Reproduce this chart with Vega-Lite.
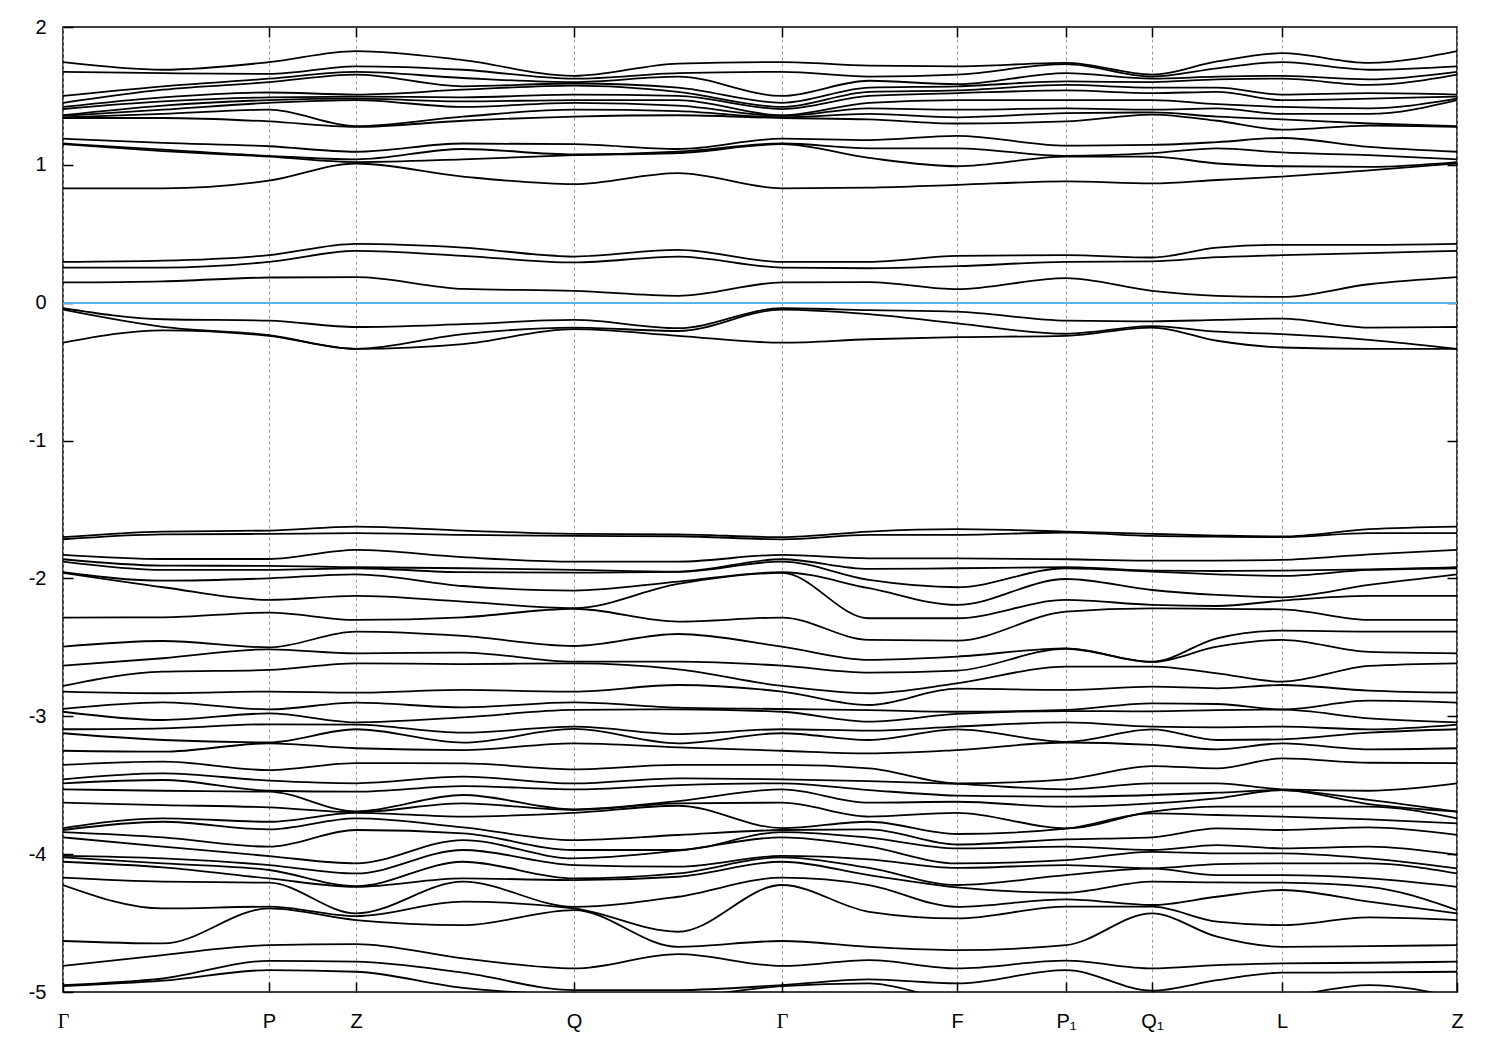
{
"$schema": "https://vega.github.io/schema/vega-lite/v6.json",
"width": 1394,
"height": 965,
"autosize": {"type": "none"},
"padding": {"left": 63, "top": 27, "right": 43, "bottom": 58},
"background": "white",
"config": {"view": {"stroke": "#000", "strokeWidth": 1.5}, "font": "Liberation Sans"},
"data": {"values": [
{"k":0,"b":1,"e":1.34},{"k":100,"b":1,"e":1.34},{"k":206,"b":1,"e":1.315},{"k":293,"b":1,"e":1.275},{"k":400,"b":1,"e":1.32},{"k":511,"b":1,"e":1.35},{"k":615,"b":1,"e":1.36},{"k":719,"b":1,"e":1.34},{"k":806,"b":1,"e":1.33},{"k":894,"b":1,"e":1.30},{"k":1003,"b":1,"e":1.315},{"k":1089,"b":1,"e":1.365},{"k":1154,"b":1,"e":1.32},{"k":1219,"b":1,"e":1.255},{"k":1306,"b":1,"e":1.285},{"k":1394,"b":1,"e":1.275},
{"k":0,"b":2,"e":1.345},{"k":100,"b":2,"e":1.37},{"k":206,"b":2,"e":1.40},{"k":293,"b":2,"e":1.28},{"k":400,"b":2,"e":1.35},{"k":511,"b":2,"e":1.40},{"k":615,"b":2,"e":1.39},{"k":719,"b":2,"e":1.345},{"k":806,"b":2,"e":1.37},{"k":894,"b":2,"e":1.345},{"k":1003,"b":2,"e":1.375},{"k":1089,"b":2,"e":1.38},{"k":1154,"b":2,"e":1.35},{"k":1219,"b":2,"e":1.33},{"k":1306,"b":2,"e":1.30},{"k":1394,"b":2,"e":1.28},
{"k":0,"b":3,"e":1.355},{"k":100,"b":3,"e":1.40},{"k":206,"b":3,"e":1.45},{"k":293,"b":3,"e":1.47},{"k":400,"b":3,"e":1.42},{"k":511,"b":3,"e":1.45},{"k":615,"b":3,"e":1.43},{"k":719,"b":3,"e":1.355},{"k":806,"b":3,"e":1.41},{"k":894,"b":3,"e":1.40},{"k":1003,"b":3,"e":1.41},{"k":1089,"b":3,"e":1.40},{"k":1154,"b":3,"e":1.41},{"k":1219,"b":3,"e":1.37},{"k":1306,"b":3,"e":1.37},{"k":1394,"b":3,"e":1.47},
{"k":0,"b":4,"e":1.36},{"k":100,"b":4,"e":1.43},{"k":206,"b":4,"e":1.47},{"k":293,"b":4,"e":1.48},{"k":400,"b":4,"e":1.46},{"k":511,"b":4,"e":1.47},{"k":615,"b":4,"e":1.47},{"k":719,"b":4,"e":1.36},{"k":806,"b":4,"e":1.45},{"k":894,"b":4,"e":1.47},{"k":1003,"b":4,"e":1.47},{"k":1089,"b":4,"e":1.47},{"k":1154,"b":4,"e":1.44},{"k":1219,"b":4,"e":1.42},{"k":1306,"b":4,"e":1.41},{"k":1394,"b":4,"e":1.48},
{"k":0,"b":5,"e":1.405},{"k":100,"b":5,"e":1.46},{"k":206,"b":5,"e":1.49},{"k":293,"b":5,"e":1.495},{"k":400,"b":5,"e":1.49},{"k":511,"b":5,"e":1.51},{"k":615,"b":5,"e":1.50},{"k":719,"b":5,"e":1.405},{"k":806,"b":5,"e":1.50},{"k":894,"b":5,"e":1.52},{"k":1003,"b":5,"e":1.54},{"k":1089,"b":5,"e":1.52},{"k":1154,"b":5,"e":1.53},{"k":1219,"b":5,"e":1.47},{"k":1306,"b":5,"e":1.48},{"k":1394,"b":5,"e":1.495},
{"k":0,"b":6,"e":1.42},{"k":100,"b":6,"e":1.49},{"k":206,"b":6,"e":1.525},{"k":293,"b":6,"e":1.51},{"k":400,"b":6,"e":1.545},{"k":511,"b":6,"e":1.575},{"k":615,"b":6,"e":1.53},{"k":719,"b":6,"e":1.42},{"k":806,"b":6,"e":1.53},{"k":894,"b":6,"e":1.54},{"k":1003,"b":6,"e":1.58},{"k":1089,"b":6,"e":1.56},{"k":1154,"b":6,"e":1.56},{"k":1219,"b":6,"e":1.51},{"k":1306,"b":6,"e":1.52},{"k":1394,"b":6,"e":1.51},
{"k":0,"b":7,"e":1.45},{"k":100,"b":7,"e":1.545},{"k":206,"b":7,"e":1.60},{"k":293,"b":7,"e":1.655},{"k":400,"b":7,"e":1.57},{"k":511,"b":7,"e":1.59},{"k":615,"b":7,"e":1.56},{"k":719,"b":7,"e":1.45},{"k":806,"b":7,"e":1.56},{"k":894,"b":7,"e":1.57},{"k":1003,"b":7,"e":1.605},{"k":1089,"b":7,"e":1.60},{"k":1154,"b":7,"e":1.62},{"k":1219,"b":7,"e":1.625},{"k":1306,"b":7,"e":1.58},{"k":1394,"b":7,"e":1.655},
{"k":0,"b":8,"e":1.50},{"k":100,"b":8,"e":1.57},{"k":206,"b":8,"e":1.625},{"k":293,"b":8,"e":1.675},{"k":400,"b":8,"e":1.63},{"k":511,"b":8,"e":1.60},{"k":615,"b":8,"e":1.64},{"k":719,"b":8,"e":1.50},{"k":806,"b":8,"e":1.61},{"k":894,"b":8,"e":1.585},{"k":1003,"b":8,"e":1.665},{"k":1089,"b":8,"e":1.625},{"k":1154,"b":8,"e":1.64},{"k":1219,"b":8,"e":1.645},{"k":1306,"b":8,"e":1.62},{"k":1394,"b":8,"e":1.675},
{"k":0,"b":9,"e":1.675},{"k":100,"b":9,"e":1.665},{"k":206,"b":9,"e":1.66},{"k":293,"b":9,"e":1.715},{"k":400,"b":9,"e":1.69},{"k":511,"b":9,"e":1.625},{"k":615,"b":9,"e":1.665},{"k":719,"b":9,"e":1.675},{"k":806,"b":9,"e":1.64},{"k":894,"b":9,"e":1.655},{"k":1003,"b":9,"e":1.73},{"k":1089,"b":9,"e":1.64},{"k":1154,"b":9,"e":1.70},{"k":1219,"b":9,"e":1.745},{"k":1306,"b":9,"e":1.69},{"k":1394,"b":9,"e":1.715},
{"k":0,"b":10,"e":1.745},{"k":100,"b":10,"e":1.69},{"k":206,"b":10,"e":1.745},{"k":293,"b":10,"e":1.825},{"k":400,"b":10,"e":1.76},{"k":511,"b":10,"e":1.645},{"k":615,"b":10,"e":1.735},{"k":719,"b":10,"e":1.745},{"k":806,"b":10,"e":1.72},{"k":894,"b":10,"e":1.715},{"k":1003,"b":10,"e":1.74},{"k":1089,"b":10,"e":1.655},{"k":1154,"b":10,"e":1.75},{"k":1219,"b":10,"e":1.81},{"k":1306,"b":10,"e":1.74},{"k":1394,"b":10,"e":1.825},
{"k":0,"b":11,"e":0.83},{"k":100,"b":11,"e":0.83},{"k":206,"b":11,"e":0.885},{"k":293,"b":11,"e":1.01},{"k":400,"b":11,"e":0.915},{"k":511,"b":11,"e":0.86},{"k":615,"b":11,"e":0.94},{"k":719,"b":11,"e":0.83},{"k":806,"b":11,"e":0.835},{"k":894,"b":11,"e":0.855},{"k":1003,"b":11,"e":0.88},{"k":1089,"b":11,"e":0.865},{"k":1154,"b":11,"e":0.89},{"k":1219,"b":11,"e":0.915},{"k":1306,"b":11,"e":0.96},{"k":1394,"b":11,"e":1.01},
{"k":0,"b":12,"e":1.15},{"k":100,"b":12,"e":1.10},{"k":206,"b":12,"e":1.06},{"k":293,"b":12,"e":1.02},{"k":400,"b":12,"e":1.04},{"k":511,"b":12,"e":1.07},{"k":615,"b":12,"e":1.085},{"k":719,"b":12,"e":1.15},{"k":806,"b":12,"e":1.05},{"k":894,"b":12,"e":0.99},{"k":1003,"b":12,"e":1.06},{"k":1089,"b":12,"e":1.06},{"k":1154,"b":12,"e":1.01},{"k":1219,"b":12,"e":0.99},{"k":1306,"b":12,"e":0.985},{"k":1394,"b":12,"e":1.02},
{"k":0,"b":13,"e":1.155},{"k":100,"b":13,"e":1.11},{"k":206,"b":13,"e":1.065},{"k":293,"b":13,"e":1.04},{"k":400,"b":13,"e":1.115},{"k":511,"b":13,"e":1.075},{"k":615,"b":13,"e":1.095},{"k":719,"b":13,"e":1.155},{"k":806,"b":13,"e":1.12},{"k":894,"b":13,"e":1.12},{"k":1003,"b":13,"e":1.065},{"k":1089,"b":13,"e":1.085},{"k":1154,"b":13,"e":1.12},{"k":1219,"b":13,"e":1.09},{"k":1306,"b":13,"e":1.07},{"k":1394,"b":13,"e":1.04},
{"k":0,"b":14,"e":1.19},{"k":100,"b":14,"e":1.16},{"k":206,"b":14,"e":1.135},{"k":293,"b":14,"e":1.095},{"k":400,"b":14,"e":1.155},{"k":511,"b":14,"e":1.15},{"k":615,"b":14,"e":1.115},{"k":719,"b":14,"e":1.19},{"k":806,"b":14,"e":1.18},{"k":894,"b":14,"e":1.21},{"k":1003,"b":14,"e":1.14},{"k":1089,"b":14,"e":1.145},{"k":1154,"b":14,"e":1.165},{"k":1219,"b":14,"e":1.195},{"k":1306,"b":14,"e":1.13},{"k":1394,"b":14,"e":1.095},
{"k":0,"b":21,"e":0.147},{"k":100,"b":21,"e":0.155},{"k":206,"b":21,"e":0.183},{"k":293,"b":21,"e":0.186},{"k":400,"b":21,"e":0.10},{"k":511,"b":21,"e":0.086},{"k":615,"b":21,"e":0.05},{"k":719,"b":21,"e":0.147},{"k":806,"b":21,"e":0.15},{"k":894,"b":21,"e":0.098},{"k":1003,"b":21,"e":0.178},{"k":1089,"b":21,"e":0.086},{"k":1154,"b":21,"e":0.05},{"k":1219,"b":21,"e":0.042},{"k":1306,"b":21,"e":0.134},{"k":1394,"b":21,"e":0.186},
{"k":0,"b":22,"e":0.255},{"k":100,"b":22,"e":0.255},{"k":206,"b":22,"e":0.296},{"k":293,"b":22,"e":0.376},{"k":400,"b":22,"e":0.34},{"k":511,"b":22,"e":0.292},{"k":615,"b":22,"e":0.335},{"k":719,"b":22,"e":0.255},{"k":806,"b":22,"e":0.25},{"k":894,"b":22,"e":0.265},{"k":1003,"b":22,"e":0.296},{"k":1089,"b":22,"e":0.30},{"k":1154,"b":22,"e":0.33},{"k":1219,"b":22,"e":0.345},{"k":1306,"b":22,"e":0.36},{"k":1394,"b":22,"e":0.376},
{"k":0,"b":23,"e":0.296},{"k":100,"b":23,"e":0.305},{"k":206,"b":23,"e":0.345},{"k":293,"b":23,"e":0.427},{"k":400,"b":23,"e":0.40},{"k":511,"b":23,"e":0.335},{"k":615,"b":23,"e":0.383},{"k":719,"b":23,"e":0.296},{"k":806,"b":23,"e":0.296},{"k":894,"b":23,"e":0.34},{"k":1003,"b":23,"e":0.345},{"k":1089,"b":23,"e":0.328},{"k":1154,"b":23,"e":0.40},{"k":1219,"b":23,"e":0.42},{"k":1306,"b":23,"e":0.42},{"k":1394,"b":23,"e":0.427},
{"k":0,"b":24,"e":-0.04},{"k":100,"b":24,"e":-0.12},{"k":206,"b":24,"e":-0.13},{"k":293,"b":24,"e":-0.176},{"k":400,"b":24,"e":-0.156},{"k":511,"b":24,"e":-0.125},{"k":615,"b":24,"e":-0.185},{"k":719,"b":24,"e":-0.04},{"k":806,"b":24,"e":-0.054},{"k":894,"b":24,"e":-0.065},{"k":1003,"b":24,"e":-0.13},{"k":1089,"b":24,"e":-0.135},{"k":1154,"b":24,"e":-0.125},{"k":1219,"b":24,"e":-0.115},{"k":1306,"b":24,"e":-0.18},{"k":1394,"b":24,"e":-0.176},
{"k":0,"b":25,"e":-0.05},{"k":100,"b":25,"e":-0.175},{"k":206,"b":25,"e":-0.235},{"k":293,"b":25,"e":-0.335},{"k":400,"b":25,"e":-0.228},{"k":511,"b":25,"e":-0.18},{"k":615,"b":25,"e":-0.205},{"k":719,"b":25,"e":-0.05},{"k":806,"b":25,"e":-0.083},{"k":894,"b":25,"e":-0.15},{"k":1003,"b":25,"e":-0.225},{"k":1089,"b":25,"e":-0.17},{"k":1154,"b":25,"e":-0.21},{"k":1219,"b":25,"e":-0.228},{"k":1306,"b":25,"e":-0.27},{"k":1394,"b":25,"e":-0.335},
{"k":0,"b":26,"e":-0.29},{"k":100,"b":26,"e":-0.20},{"k":206,"b":26,"e":-0.24},{"k":293,"b":26,"e":-0.335},{"k":400,"b":26,"e":-0.30},{"k":511,"b":26,"e":-0.192},{"k":615,"b":26,"e":-0.24},{"k":719,"b":26,"e":-0.29},{"k":806,"b":26,"e":-0.265},{"k":894,"b":26,"e":-0.25},{"k":1003,"b":26,"e":-0.24},{"k":1089,"b":26,"e":-0.18},{"k":1154,"b":26,"e":-0.276},{"k":1219,"b":26,"e":-0.325},{"k":1306,"b":26,"e":-0.335},{"k":1394,"b":26,"e":-0.335},
{"k":0,"b":30,"e":-5.35},{"k":100,"b":30,"e":-5.3},{"k":206,"b":30,"e":-5.25},{"k":293,"b":30,"e":-5.2},{"k":400,"b":30,"e":-5.2},{"k":511,"b":30,"e":-5.25},{"k":615,"b":30,"e":-5.3},{"k":719,"b":30,"e":-5.35},{"k":806,"b":30,"e":-5.3},{"k":894,"b":30,"e":-5.3},{"k":1003,"b":30,"e":-5.3},{"k":1089,"b":30,"e":-5.3},{"k":1154,"b":30,"e":-5.3},{"k":1219,"b":30,"e":-5.3},{"k":1306,"b":30,"e":-5.2},{"k":1394,"b":30,"e":-5.3},
{"k":0,"b":31,"e":-5.25},{"k":100,"b":31,"e":-5.2},{"k":206,"b":31,"e":-5.15},{"k":293,"b":31,"e":-5.12},{"k":400,"b":31,"e":-5.12},{"k":511,"b":31,"e":-5.15},{"k":615,"b":31,"e":-5.2},{"k":719,"b":31,"e":-5.25},{"k":806,"b":31,"e":-5.2},{"k":894,"b":31,"e":-5.2},{"k":1003,"b":31,"e":-5.2},{"k":1089,"b":31,"e":-5.2},{"k":1154,"b":31,"e":-5.2},{"k":1219,"b":31,"e":-5.2},{"k":1306,"b":31,"e":-5.12},{"k":1394,"b":31,"e":-5.2},
{"k":0,"b":32,"e":-5.15},{"k":100,"b":32,"e":-5.1},{"k":206,"b":32,"e":-5.05},{"k":293,"b":32,"e":-5.06},{"k":400,"b":32,"e":-5.06},{"k":511,"b":32,"e":-5.08},{"k":615,"b":32,"e":-5.1},{"k":719,"b":32,"e":-5.15},{"k":806,"b":32,"e":-5.1},{"k":894,"b":32,"e":-5.12},{"k":1003,"b":32,"e":-5.12},{"k":1089,"b":32,"e":-5.1},{"k":1154,"b":32,"e":-5.1},{"k":1219,"b":32,"e":-5.1},{"k":1306,"b":32,"e":-5.06},{"k":1394,"b":32,"e":-5.1},
{"k":0,"b":33,"e":-4.957},{"k":100,"b":33,"e":-4.918},{"k":206,"b":33,"e":-4.841},{"k":293,"b":33,"e":-4.853},{"k":400,"b":33,"e":-4.97},{"k":511,"b":33,"e":-5.02},{"k":615,"b":33,"e":-5.03},{"k":719,"b":33,"e":-4.957},{"k":806,"b":33,"e":-4.938},{"k":894,"b":33,"e":-5.05},{"k":1003,"b":33,"e":-5.05},{"k":1089,"b":33,"e":-5.02},{"k":1154,"b":33,"e":-5.04},{"k":1219,"b":33,"e":-5.03},{"k":1306,"b":33,"e":-4.95},{"k":1394,"b":33,"e":-5.04},
{"k":0,"b":34,"e":-4.95},{"k":100,"b":34,"e":-4.902},{"k":206,"b":34,"e":-4.774},{"k":293,"b":34,"e":-4.78},{"k":400,"b":34,"e":-4.86},{"k":511,"b":34,"e":-4.986},{"k":615,"b":34,"e":-4.986},{"k":719,"b":34,"e":-4.95},{"k":806,"b":34,"e":-4.909},{"k":894,"b":34,"e":-4.938},{"k":1003,"b":34,"e":-4.841},{"k":1089,"b":34,"e":-4.99},{"k":1154,"b":34,"e":-4.914},{"k":1219,"b":34,"e":-4.86},{"k":1306,"b":34,"e":-4.858},{"k":1394,"b":34,"e":-4.853},
{"k":0,"b":35,"e":-4.811},{"k":100,"b":35,"e":-4.732},{"k":206,"b":35,"e":-4.66},{"k":293,"b":35,"e":-4.652},{"k":400,"b":35,"e":-4.756},{"k":511,"b":35,"e":-4.829},{"k":615,"b":35,"e":-4.725},{"k":719,"b":35,"e":-4.811},{"k":806,"b":35,"e":-4.769},{"k":894,"b":35,"e":-4.829},{"k":1003,"b":35,"e":-4.773},{"k":1089,"b":35,"e":-4.829},{"k":1154,"b":35,"e":-4.805},{"k":1219,"b":35,"e":-4.793},{"k":1306,"b":35,"e":-4.788},{"k":1394,"b":35,"e":-4.78},
{"k":0,"b":36,"e":-4.63},{"k":100,"b":36,"e":-4.648},{"k":206,"b":36,"e":-4.394},{"k":293,"b":36,"e":-4.478},{"k":400,"b":36,"e":-4.515},{"k":511,"b":36,"e":-4.406},{"k":615,"b":36,"e":-4.672},{"k":719,"b":36,"e":-4.63},{"k":806,"b":36,"e":-4.672},{"k":894,"b":36,"e":-4.696},{"k":1003,"b":36,"e":-4.66},{"k":1089,"b":36,"e":-4.43},{"k":1154,"b":36,"e":-4.599},{"k":1219,"b":36,"e":-4.672},{"k":1306,"b":36,"e":-4.667},{"k":1394,"b":36,"e":-4.66},
{"k":0,"b":37,"e":-4.224},{"k":100,"b":37,"e":-4.394},{"k":206,"b":37,"e":-4.381},{"k":293,"b":37,"e":-4.45},{"k":400,"b":37,"e":-4.345},{"k":511,"b":37,"e":-4.394},{"k":615,"b":37,"e":-4.563},{"k":719,"b":37,"e":-4.224},{"k":806,"b":37,"e":-4.418},{"k":894,"b":37,"e":-4.466},{"k":1003,"b":37,"e":-4.381},{"k":1089,"b":37,"e":-4.381},{"k":1154,"b":37,"e":-4.49},{"k":1219,"b":37,"e":-4.515},{"k":1306,"b":37,"e":-4.459},{"k":1394,"b":37,"e":-4.478},
{"k":0,"b":38,"e":-4.171},{"k":100,"b":38,"e":-4.20},{"k":206,"b":38,"e":-4.207},{"k":293,"b":38,"e":-4.43},{"k":400,"b":38,"e":-4.20},{"k":511,"b":38,"e":-4.382},{"k":615,"b":38,"e":-4.309},{"k":719,"b":38,"e":-4.171},{"k":806,"b":38,"e":-4.224},{"k":894,"b":38,"e":-4.382},{"k":1003,"b":38,"e":-4.328},{"k":1089,"b":38,"e":-4.369},{"k":1154,"b":38,"e":-4.309},{"k":1219,"b":38,"e":-4.26},{"k":1306,"b":38,"e":-4.345},{"k":1394,"b":38,"e":-4.43},
{"k":0,"b":39,"e":-4.055},{"k":100,"b":39,"e":-4.096},{"k":206,"b":39,"e":-4.176},{"k":293,"b":39,"e":-4.237},{"k":400,"b":39,"e":-4.176},{"k":511,"b":39,"e":-4.188},{"k":615,"b":39,"e":-4.164},{"k":719,"b":39,"e":-4.055},{"k":806,"b":39,"e":-4.152},{"k":894,"b":39,"e":-4.241},{"k":1003,"b":39,"e":-4.28},{"k":1089,"b":39,"e":-4.2},{"k":1154,"b":39,"e":-4.205},{"k":1219,"b":39,"e":-4.207},{"k":1306,"b":39,"e":-4.237},{"k":1394,"b":39,"e":-4.406},
{"k":0,"b":40,"e":-4.023},{"k":100,"b":40,"e":-4.067},{"k":206,"b":40,"e":-4.115},{"k":293,"b":40,"e":-4.232},{"k":400,"b":40,"e":-4.055},{"k":511,"b":40,"e":-4.176},{"k":615,"b":40,"e":-4.14},{"k":719,"b":40,"e":-4.023},{"k":806,"b":40,"e":-4.10},{"k":894,"b":40,"e":-4.224},{"k":1003,"b":40,"e":-4.152},{"k":1089,"b":40,"e":-4.105},{"k":1154,"b":40,"e":-4.152},{"k":1219,"b":40,"e":-4.152},{"k":1306,"b":40,"e":-4.176},{"k":1394,"b":40,"e":-4.237},
{"k":0,"b":41,"e":-4.013},{"k":100,"b":41,"e":-4.031},{"k":206,"b":41,"e":-4.079},{"k":293,"b":41,"e":-4.14},{"k":400,"b":41,"e":-3.970},{"k":511,"b":41,"e":-4.079},{"k":615,"b":41,"e":-4.091},{"k":719,"b":41,"e":-4.013},{"k":806,"b":41,"e":-4.038},{"k":894,"b":41,"e":-4.10},{"k":1003,"b":41,"e":-4.079},{"k":1089,"b":41,"e":-4.103},{"k":1154,"b":41,"e":-4.072},{"k":1219,"b":41,"e":-4.067},{"k":1306,"b":41,"e":-4.067},{"k":1394,"b":41,"e":-4.14},
{"k":0,"b":42,"e":-3.878},{"k":100,"b":42,"e":-3.946},{"k":206,"b":42,"e":-4.014},{"k":293,"b":42,"e":-4.067},{"k":400,"b":42,"e":-3.898},{"k":511,"b":42,"e":-4.031},{"k":615,"b":42,"e":-3.975},{"k":719,"b":42,"e":-3.878},{"k":806,"b":42,"e":-3.946},{"k":894,"b":42,"e":-4.067},{"k":1003,"b":42,"e":-4.043},{"k":1089,"b":42,"e":-3.983},{"k":1154,"b":42,"e":-3.994},{"k":1219,"b":42,"e":-3.994},{"k":1306,"b":42,"e":-4.031},{"k":1394,"b":42,"e":-4.103},
{"k":0,"b":43,"e":-3.84},{"k":100,"b":43,"e":-3.878},{"k":206,"b":43,"e":-3.946},{"k":293,"b":43,"e":-3.825},{"k":400,"b":43,"e":-3.849},{"k":511,"b":43,"e":-3.97},{"k":615,"b":43,"e":-3.970},{"k":719,"b":43,"e":-3.84},{"k":806,"b":43,"e":-3.88},{"k":894,"b":43,"e":-3.958},{"k":1003,"b":43,"e":-3.946},{"k":1089,"b":43,"e":-3.97},{"k":1154,"b":43,"e":-3.934},{"k":1219,"b":43,"e":-3.958},{"k":1306,"b":43,"e":-3.946},{"k":1394,"b":43,"e":-4.006},
{"k":0,"b":44,"e":-3.825},{"k":100,"b":44,"e":-3.765},{"k":206,"b":44,"e":-3.82},{"k":293,"b":44,"e":-3.74},{"k":400,"b":44,"e":-3.806},{"k":511,"b":44,"e":-3.898},{"k":615,"b":44,"e":-3.861},{"k":719,"b":44,"e":-3.825},{"k":806,"b":44,"e":-3.82},{"k":894,"b":44,"e":-3.93},{"k":1003,"b":44,"e":-3.893},{"k":1089,"b":44,"e":-3.878},{"k":1154,"b":44,"e":-3.813},{"k":1219,"b":44,"e":-3.825},{"k":1306,"b":44,"e":-3.806},{"k":1394,"b":44,"e":-3.861},
{"k":0,"b":45,"e":-3.811},{"k":100,"b":45,"e":-3.740},{"k":206,"b":45,"e":-3.765},{"k":293,"b":45,"e":-3.70},{"k":400,"b":45,"e":-3.728},{"k":511,"b":45,"e":-3.70},{"k":615,"b":45,"e":-3.649},{"k":719,"b":45,"e":-3.811},{"k":806,"b":45,"e":-3.765},{"k":894,"b":45,"e":-3.854},{"k":1003,"b":45,"e":-3.815},{"k":1089,"b":45,"e":-3.704},{"k":1154,"b":45,"e":-3.716},{"k":1219,"b":45,"e":-3.728},{"k":1306,"b":45,"e":-3.748},{"k":1394,"b":45,"e":-3.777},
{"k":0,"b":46,"e":-3.627},{"k":100,"b":46,"e":-3.644},{"k":206,"b":46,"e":-3.661},{"k":293,"b":46,"e":-3.695},{"k":400,"b":46,"e":-3.632},{"k":511,"b":46,"e":-3.68},{"k":615,"b":46,"e":-3.632},{"k":719,"b":46,"e":-3.627},{"k":806,"b":46,"e":-3.728},{"k":894,"b":46,"e":-3.70},{"k":1003,"b":46,"e":-3.813},{"k":1089,"b":46,"e":-3.692},{"k":1154,"b":46,"e":-3.656},{"k":1219,"b":46,"e":-3.656},{"k":1306,"b":46,"e":-3.656},{"k":1394,"b":46,"e":-3.74},
{"k":0,"b":47,"e":-3.53},{"k":100,"b":47,"e":-3.540},{"k":206,"b":47,"e":-3.547},{"k":293,"b":47,"e":-3.69},{"k":400,"b":47,"e":-3.571},{"k":511,"b":47,"e":-3.675},{"k":615,"b":47,"e":-3.615},{"k":719,"b":47,"e":-3.53},{"k":806,"b":47,"e":-3.627},{"k":894,"b":47,"e":-3.62},{"k":1003,"b":47,"e":-3.656},{"k":1089,"b":47,"e":-3.632},{"k":1154,"b":47,"e":-3.595},{"k":1219,"b":47,"e":-3.535},{"k":1306,"b":47,"e":-3.637},{"k":1394,"b":47,"e":-3.692},
{"k":0,"b":48,"e":-3.486},{"k":100,"b":48,"e":-3.462},{"k":206,"b":48,"e":-3.54},{"k":293,"b":48,"e":-3.547},{"k":400,"b":48,"e":-3.506},{"k":511,"b":48,"e":-3.53},{"k":615,"b":48,"e":-3.499},{"k":719,"b":48,"e":-3.486},{"k":806,"b":48,"e":-3.535},{"k":894,"b":48,"e":-3.575},{"k":1003,"b":48,"e":-3.583},{"k":1089,"b":48,"e":-3.571},{"k":1154,"b":48,"e":-3.554},{"k":1219,"b":48,"e":-3.535},{"k":1306,"b":48,"e":-3.607},{"k":1394,"b":48,"e":-3.692},
{"k":0,"b":49,"e":-3.457},{"k":100,"b":49,"e":-3.414},{"k":206,"b":49,"e":-3.467},{"k":293,"b":49,"e":-3.486},{"k":400,"b":49,"e":-3.438},{"k":511,"b":49,"e":-3.487},{"k":615,"b":49,"e":-3.450},{"k":719,"b":49,"e":-3.457},{"k":806,"b":49,"e":-3.47},{"k":894,"b":49,"e":-3.49},{"k":1003,"b":49,"e":-3.53},{"k":1089,"b":49,"e":-3.487},{"k":1154,"b":49,"e":-3.487},{"k":1219,"b":49,"e":-3.53},{"k":1306,"b":49,"e":-3.540},{"k":1394,"b":49,"e":-3.487},
{"k":0,"b":50,"e":-3.353},{"k":100,"b":50,"e":-3.329},{"k":206,"b":50,"e":-3.39},{"k":293,"b":50,"e":-3.34},{"k":400,"b":50,"e":-3.341},{"k":511,"b":50,"e":-3.385},{"k":615,"b":50,"e":-3.353},{"k":719,"b":50,"e":-3.353},{"k":806,"b":50,"e":-3.378},{"k":894,"b":50,"e":-3.487},{"k":1003,"b":50,"e":-3.457},{"k":1089,"b":50,"e":-3.361},{"k":1154,"b":50,"e":-3.378},{"k":1219,"b":50,"e":-3.305},{"k":1306,"b":50,"e":-3.337},{"k":1394,"b":50,"e":-3.34},
{"k":0,"b":51,"e":-3.25},{"k":100,"b":51,"e":-3.257},{"k":206,"b":51,"e":-3.196},{"k":293,"b":51,"e":-3.232},{"k":400,"b":51,"e":-3.245},{"k":511,"b":51,"e":-3.196},{"k":615,"b":51,"e":-3.225},{"k":719,"b":51,"e":-3.25},{"k":806,"b":51,"e":-3.269},{"k":894,"b":51,"e":-3.245},{"k":1003,"b":51,"e":-3.19},{"k":1089,"b":51,"e":-3.208},{"k":1154,"b":51,"e":-3.24},{"k":1219,"b":51,"e":-3.196},{"k":1306,"b":51,"e":-3.24},{"k":1394,"b":51,"e":-3.232},
{"k":0,"b":52,"e":-3.123},{"k":100,"b":52,"e":-3.172},{"k":206,"b":52,"e":-3.189},{"k":293,"b":52,"e":-3.094},{"k":400,"b":52,"e":-3.191},{"k":511,"b":52,"e":-3.092},{"k":615,"b":52,"e":-3.196},{"k":719,"b":52,"e":-3.123},{"k":806,"b":52,"e":-3.172},{"k":894,"b":52,"e":-3.095},{"k":1003,"b":52,"e":-3.185},{"k":1089,"b":52,"e":-3.095},{"k":1154,"b":52,"e":-3.172},{"k":1219,"b":52,"e":-3.167},{"k":1306,"b":52,"e":-3.119},{"k":1394,"b":52,"e":-3.094},
{"k":0,"b":53,"e":-3.094},{"k":100,"b":53,"e":-3.087},{"k":206,"b":53,"e":-3.058},{"k":293,"b":53,"e":-3.06},{"k":400,"b":53,"e":-3.119},{"k":511,"b":53,"e":-3.075},{"k":615,"b":53,"e":-3.129},{"k":719,"b":53,"e":-3.094},{"k":806,"b":53,"e":-3.104},{"k":894,"b":53,"e":-3.075},{"k":1003,"b":53,"e":-3.044},{"k":1089,"b":53,"e":-3.075},{"k":1154,"b":53,"e":-3.08},{"k":1219,"b":53,"e":-3.075},{"k":1306,"b":53,"e":-3.095},{"k":1394,"b":53,"e":-3.06},
{"k":0,"b":54,"e":-2.967},{"k":100,"b":54,"e":-3.027},{"k":206,"b":54,"e":-2.979},{"k":293,"b":54,"e":-3.044},{"k":400,"b":54,"e":-3.008},{"k":511,"b":54,"e":-2.954},{"k":615,"b":54,"e":-2.95},{"k":719,"b":54,"e":-2.967},{"k":806,"b":54,"e":-3.039},{"k":894,"b":54,"e":-2.983},{"k":1003,"b":54,"e":-2.962},{"k":1089,"b":54,"e":-2.964},{"k":1154,"b":54,"e":-2.955},{"k":1219,"b":54,"e":-2.952},{"k":1306,"b":54,"e":-3.015},{"k":1394,"b":54,"e":-3.044},
{"k":0,"b":55,"e":-2.947},{"k":100,"b":55,"e":-2.899},{"k":206,"b":55,"e":-2.95},{"k":293,"b":55,"e":-2.901},{"k":400,"b":55,"e":-2.935},{"k":511,"b":55,"e":-2.899},{"k":615,"b":55,"e":-2.937},{"k":719,"b":55,"e":-2.947},{"k":806,"b":55,"e":-2.955},{"k":894,"b":55,"e":-2.967},{"k":1003,"b":55,"e":-2.954},{"k":1089,"b":55,"e":-2.906},{"k":1154,"b":55,"e":-2.911},{"k":1219,"b":55,"e":-2.95},{"k":1306,"b":55,"e":-2.887},{"k":1394,"b":55,"e":-2.901},
{"k":0,"b":56,"e":-2.821},{"k":100,"b":56,"e":-2.833},{"k":206,"b":56,"e":-2.821},{"k":293,"b":56,"e":-2.829},{"k":400,"b":56,"e":-2.809},{"k":511,"b":56,"e":-2.821},{"k":615,"b":56,"e":-2.773},{"k":719,"b":56,"e":-2.821},{"k":806,"b":56,"e":-2.918},{"k":894,"b":56,"e":-2.80},{"k":1003,"b":56,"e":-2.809},{"k":1089,"b":56,"e":-2.785},{"k":1154,"b":56,"e":-2.797},{"k":1219,"b":56,"e":-2.773},{"k":1306,"b":56,"e":-2.814},{"k":1394,"b":56,"e":-2.829},
{"k":0,"b":57,"e":-2.78},{"k":100,"b":57,"e":-2.676},{"k":206,"b":57,"e":-2.664},{"k":293,"b":57,"e":-2.616},{"k":400,"b":57,"e":-2.621},{"k":511,"b":57,"e":-2.616},{"k":615,"b":57,"e":-2.659},{"k":719,"b":57,"e":-2.78},{"k":806,"b":57,"e":-2.833},{"k":894,"b":57,"e":-2.761},{"k":1003,"b":57,"e":-2.64},{"k":1089,"b":57,"e":-2.64},{"k":1154,"b":57,"e":-2.688},{"k":1219,"b":57,"e":-2.749},{"k":1306,"b":57,"e":-2.635},{"k":1394,"b":57,"e":-2.616},
{"k":0,"b":58,"e":-2.633},{"k":100,"b":58,"e":-2.579},{"k":206,"b":58,"e":-2.514},{"k":293,"b":58,"e":-2.543},{"k":400,"b":58,"e":-2.538},{"k":511,"b":58,"e":-2.604},{"k":615,"b":58,"e":-2.604},{"k":719,"b":58,"e":-2.633},{"k":806,"b":58,"e":-2.684},{"k":894,"b":58,"e":-2.669},{"k":1003,"b":58,"e":-2.51},{"k":1089,"b":58,"e":-2.606},{"k":1154,"b":58,"e":-2.495},{"k":1219,"b":58,"e":-2.446},{"k":1306,"b":58,"e":-2.533},{"k":1394,"b":58,"e":-2.543},
{"k":0,"b":59,"e":-2.495},{"k":100,"b":59,"e":-2.454},{"k":206,"b":59,"e":-2.5},{"k":293,"b":59,"e":-2.386},{"k":400,"b":59,"e":-2.417},{"k":511,"b":59,"e":-2.49},{"k":615,"b":59,"e":-2.403},{"k":719,"b":59,"e":-2.495},{"k":806,"b":59,"e":-2.591},{"k":894,"b":59,"e":-2.567},{"k":1003,"b":59,"e":-2.507},{"k":1089,"b":59,"e":-2.604},{"k":1154,"b":59,"e":-2.434},{"k":1219,"b":59,"e":-2.379},{"k":1306,"b":59,"e":-2.386},{"k":1394,"b":59,"e":-2.386},
{"k":0,"b":60,"e":-2.284},{"k":100,"b":60,"e":-2.282},{"k":206,"b":60,"e":-2.248},{"k":293,"b":60,"e":-2.301},{"k":400,"b":60,"e":-2.282},{"k":511,"b":60,"e":-2.22},{"k":615,"b":60,"e":-2.313},{"k":719,"b":60,"e":-2.284},{"k":806,"b":60,"e":-2.446},{"k":894,"b":60,"e":-2.451},{"k":1003,"b":60,"e":-2.241},{"k":1089,"b":60,"e":-2.217},{"k":1154,"b":60,"e":-2.221},{"k":1219,"b":60,"e":-2.224},{"k":1306,"b":60,"e":-2.301},{"k":1394,"b":60,"e":-2.301},
{"k":0,"b":61,"e":-1.96},{"k":100,"b":61,"e":-2.064},{"k":206,"b":61,"e":-2.156},{"k":293,"b":61,"e":-2.127},{"k":400,"b":61,"e":-2.168},{"k":511,"b":61,"e":-2.215},{"k":615,"b":61,"e":-2.04},{"k":719,"b":61,"e":-1.96},{"k":806,"b":61,"e":-2.289},{"k":894,"b":61,"e":-2.289},{"k":1003,"b":61,"e":-2.156},{"k":1089,"b":61,"e":-2.192},{"k":1154,"b":61,"e":-2.200},{"k":1219,"b":61,"e":-2.161},{"k":1306,"b":61,"e":-2.127},{"k":1394,"b":61,"e":-2.127},
{"k":0,"b":62,"e":-1.955},{"k":100,"b":62,"e":-2.016},{"k":206,"b":62,"e":-1.999},{"k":293,"b":62,"e":-1.97},{"k":400,"b":62,"e":-2.055},{"k":511,"b":62,"e":-2.088},{"k":615,"b":62,"e":-2.023},{"k":719,"b":62,"e":-1.955},{"k":806,"b":62,"e":-2.071},{"k":894,"b":62,"e":-2.192},{"k":1003,"b":62,"e":-2.004},{"k":1089,"b":62,"e":-2.084},{"k":1154,"b":62,"e":-2.120},{"k":1219,"b":62,"e":-2.137},{"k":1306,"b":62,"e":-2.047},{"k":1394,"b":62,"e":-1.97},
{"k":0,"b":63,"e":-1.878},{"k":100,"b":63,"e":-1.938},{"k":206,"b":63,"e":-1.938},{"k":293,"b":63,"e":-1.926},{"k":400,"b":63,"e":-1.955},{"k":511,"b":63,"e":-1.958},{"k":615,"b":63,"e":-1.953},{"k":719,"b":63,"e":-1.878},{"k":806,"b":63,"e":-2.011},{"k":894,"b":63,"e":-2.064},{"k":1003,"b":63,"e":-1.926},{"k":1089,"b":63,"e":-1.95},{"k":1154,"b":63,"e":-1.970},{"k":1219,"b":63,"e":-1.982},{"k":1306,"b":63,"e":-1.938},{"k":1394,"b":63,"e":-1.926},
{"k":0,"b":64,"e":-1.861},{"k":100,"b":64,"e":-1.907},{"k":206,"b":64,"e":-1.909},{"k":293,"b":64,"e":-1.919},{"k":400,"b":64,"e":-1.926},{"k":511,"b":64,"e":-1.938},{"k":615,"b":64,"e":-1.950},{"k":719,"b":64,"e":-1.861},{"k":806,"b":64,"e":-1.931},{"k":894,"b":64,"e":-1.926},{"k":1003,"b":64,"e":-1.919},{"k":1089,"b":64,"e":-1.943},{"k":1154,"b":64,"e":-1.946},{"k":1219,"b":64,"e":-1.943},{"k":1306,"b":64,"e":-1.934},{"k":1394,"b":64,"e":-1.919},
{"k":0,"b":65,"e":-1.829},{"k":100,"b":65,"e":-1.859},{"k":206,"b":65,"e":-1.859},{"k":293,"b":65,"e":-1.793},{"k":400,"b":65,"e":-1.846},{"k":511,"b":65,"e":-1.878},{"k":615,"b":65,"e":-1.878},{"k":719,"b":65,"e":-1.829},{"k":806,"b":65,"e":-1.854},{"k":894,"b":65,"e":-1.854},{"k":1003,"b":65,"e":-1.861},{"k":1089,"b":65,"e":-1.871},{"k":1154,"b":65,"e":-1.871},{"k":1219,"b":65,"e":-1.866},{"k":1306,"b":65,"e":-1.825},{"k":1394,"b":65,"e":-1.793},
{"k":0,"b":66,"e":-1.716},{"k":100,"b":66,"e":-1.680},{"k":206,"b":66,"e":-1.677},{"k":293,"b":66,"e":-1.672},{"k":400,"b":66,"e":-1.684},{"k":511,"b":66,"e":-1.692},{"k":615,"b":66,"e":-1.694},{"k":719,"b":66,"e":-1.716},{"k":806,"b":66,"e":-1.684},{"k":894,"b":66,"e":-1.684},{"k":1003,"b":66,"e":-1.667},{"k":1089,"b":66,"e":-1.692},{"k":1154,"b":66,"e":-1.697},{"k":1219,"b":66,"e":-1.701},{"k":1306,"b":66,"e":-1.672},{"k":1394,"b":66,"e":-1.672},
{"k":0,"b":67,"e":-1.701},{"k":100,"b":67,"e":-1.660},{"k":206,"b":67,"e":-1.653},{"k":293,"b":67,"e":-1.624},{"k":400,"b":67,"e":-1.653},{"k":511,"b":67,"e":-1.677},{"k":615,"b":67,"e":-1.680},{"k":719,"b":67,"e":-1.701},{"k":806,"b":67,"e":-1.660},{"k":894,"b":67,"e":-1.643},{"k":1003,"b":67,"e":-1.66},{"k":1089,"b":67,"e":-1.677},{"k":1154,"b":67,"e":-1.689},{"k":1219,"b":67,"e":-1.696},{"k":1306,"b":67,"e":-1.643},{"k":1394,"b":67,"e":-1.624}
]},
"layer": [
{
"mark": {"type": "line", "interpolate": "monotone", "clip": true, "strokeWidth": 1.8, "color": "#000"},
"encoding": {
"x": {"field": "k", "type": "quantitative", "scale": {"domain": [0, 1394], "nice": false, "zero": false},
"axis": {"title": null, "values": [0, 206, 293, 511, 719, 894, 1003, 1089, 1219, 1394],
"labelExpr": "['Γ','P','Z','Q','Γ','F','P₁','Q₁','L','Z'][indexof([0,206,293,511,719,894,1003,1089,1219,1394], datum.value)]",
"grid": true, "gridDash": [3, 3], "gridColor": "#9a9a9a", "gridWidth": 1, "domain": false,
"tickSize": -10, "tickColor": "#000", "tickWidth": 1.5,
"labelFontSize": 20, "labelColor": "#000", "labelPadding": 29, "labelFlush": false, "labelOverlap": false, "labelBound": false,
"labelFont": {"condition": {"test": "datum.value == 0 || datum.value == 719", "value": "Liberation Serif"}, "value": "Liberation Sans"}}},
"y": {"field": "e", "type": "quantitative", "scale": {"domain": [-5, 2], "nice": false, "zero": false},
"axis": {"title": null, "values": [-5, -4, -3, -2, -1, 0, 1, 2], "labelExpr": "'' + datum.value", "grid": false, "domain": false,
"tickSize": -10, "tickColor": "#000", "tickWidth": 1.5,
"labelFontSize": 20, "labelColor": "#000", "labelFont": "Liberation Sans", "labelPadding": 27, "labelFlush": false, "labelOverlap": false}},
"detail": {"field": "b", "type": "nominal"}
}
},
{
"mark": {"type": "rule", "color": "#56b4e9", "strokeWidth": 1.5},
"encoding": {"y": {"datum": 0, "axis": null}}
},
{
"data": {"values": [{"k": 0, "e": -5}, {"k": 1394, "e": 2}]},
"mark": {"type": "point", "opacity": 0},
"encoding": {
"x": {"field": "k", "type": "quantitative", "axis": {"orient": "top", "title": null, "labels": false, "values": [206, 293, 511, 719, 894, 1003, 1089, 1219], "grid": false, "domain": false, "tickSize": -10, "tickColor": "#000", "tickWidth": 1.5}},
"y": {"field": "e", "type": "quantitative", "axis": {"orient": "right", "title": null, "labels": false, "values": [-4, -3, -2, -1, 0, 1], "grid": false, "domain": false, "tickSize": -10, "tickColor": "#000", "tickWidth": 1.5}}
}
}
],
"resolve": {"axis": {"x": "independent", "y": "independent"}}
}
